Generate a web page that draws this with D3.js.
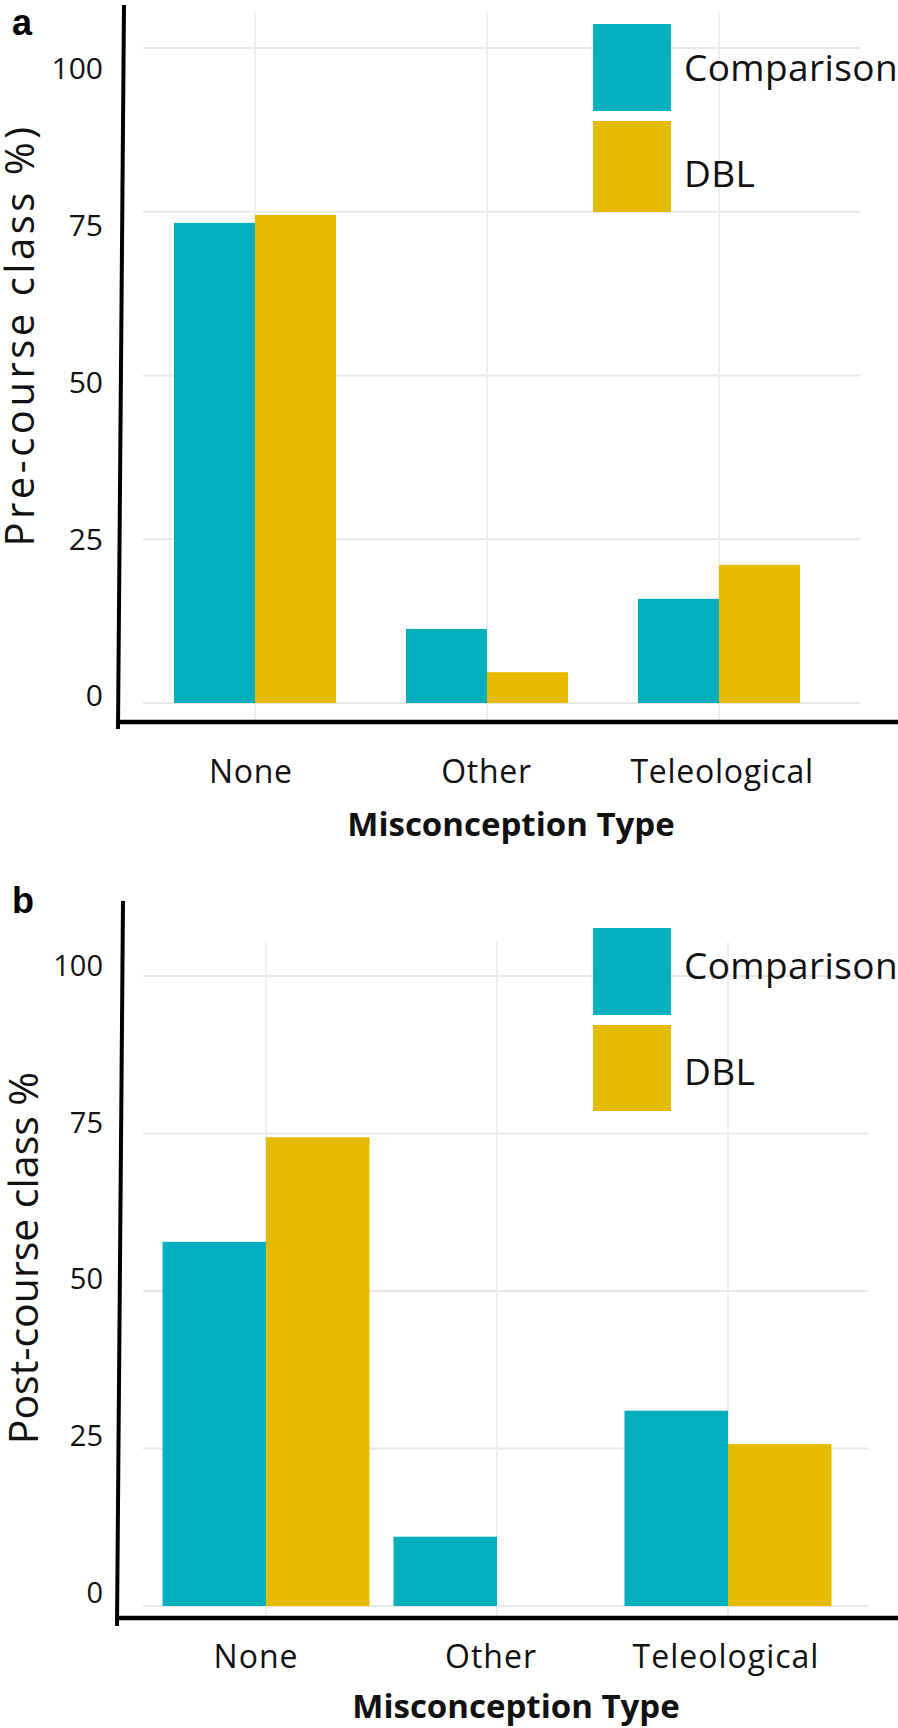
<!DOCTYPE html>
<html>
<head>
<meta charset="utf-8">
<script src="https://cdn.jsdelivr.net/npm/d3@7"></script>
<style>
  html, body { margin: 0; padding: 0; background: #fff; }
  svg { display: block; }
</style>
</head>
<body>
<svg id="chart" width="898" height="1728"></svg>
<script>
// ---------- data ----------
const categories = ["None", "Other", "Teleological"];
const seriesNames = ["Comparison", "DBL"];
const preComparison = [73.3, 11.3, 15.9];
const preDBL = [74.5, 4.7, 21.1];
const postComparison = [57.8, 11.0, 31.0];
const postDBL = [74.4, 0, 25.7];
const yTicks = [0, 25, 50, 75, 100];
const panelLetters = ["a", "b"];
const yTitles = ["Pre-course class %)", "Post-course class %"];
const xTitle = "Misconception Type";

// ---------- styles ----------
const colors = { Comparison: "#03AFBC", DBL: "#E6BA00" };
const FONT = "'Open Sans', 'DejaVu Sans', sans-serif";

const svg = d3.select("#chart");

function drawPanel(cfg) {
  const g = svg.append("g");
  const y = d3.scaleLinear().domain([0, 100]).range([cfg.y0, cfg.y100]);
  const yLab = d3.scaleLinear().domain([0, 100]).range([cfg.lab0, cfg.lab100]);
  const x = d3.scaleBand().domain(categories).range(cfg.xRange);
  const xLab = d3.scaleBand().domain(categories).range(cfg.xLabRange);
  const x1 = d3.scaleBand().domain(seriesNames).range([0, x.bandwidth()]).paddingOuter(cfg.barOuter);

  // gridlines
  g.append("g").selectAll("line").data(yTicks).join("line")
    .attr("x1", cfg.gridX[0]).attr("x2", cfg.gridX[1])
    .attr("y1", d => y(d)).attr("y2", d => y(d))
    .attr("stroke", "#EAE7E7").attr("stroke-width", 2.2);
  g.append("g").selectAll("line").data(categories).join("line")
    .attr("x1", d => x(d) + x.bandwidth() / 2).attr("x2", d => x(d) + x.bandwidth() / 2)
    .attr("y1", cfg.vGridTop).attr("y2", cfg.xAxisY)
    .attr("stroke", "#EFEDED").attr("stroke-width", 2);

  // bars
  const rows = categories.map((c, i) => ({ cat: c, vals: [
    { s: "Comparison", v: cfg.comp[i] }, { s: "DBL", v: cfg.dbl[i] }] }));
  g.append("g").selectAll("g").data(rows).join("g")
    .attr("transform", d => `translate(${x(d.cat)},0)`)
    .selectAll("rect").data(d => d.vals.filter(e => e.v > 0)).join("rect")
    .attr("x", d => x1(d.s)).attr("width", x1.bandwidth())
    .attr("y", d => y(d.v)).attr("height", d => y(0) - y(d.v))
    .attr("fill", d => colors[d.s]);

  // y tick labels via axis
  const ya = g.append("g").attr("transform", `translate(${cfg.yLabX},0)`)
    .call(d3.axisLeft(yLab).tickValues(yTicks).tickSize(0).tickPadding(0));
  ya.select(".domain").remove();
  ya.selectAll("text").attr("font-family", FONT).attr("font-size", cfg.tickFont)
    .attr("fill", "#111").attr("dy", "0.36em");

  // x tick labels via axis
  const xa = g.append("g").attr("transform", `translate(0,${cfg.xLabY})`)
    .call(d3.axisBottom(xLab).tickSize(0).tickPadding(0));
  xa.select(".domain").remove();
  xa.selectAll("text").attr("font-family", FONT).attr("font-size", 32)
    .attr("letter-spacing", cfg.xLabSpacing).attr("fill", "#111").attr("dy", 0);

  // axis lines (slightly tilted y axis as in original)
  g.append("line").attr("x1", cfg.yAxisTop[0]).attr("y1", cfg.yAxisTop[1])
    .attr("x2", cfg.yAxisBot[0]).attr("y2", cfg.yAxisBot[1])
    .attr("stroke", "#000").attr("stroke-width", 4);
  g.append("line").attr("x1", cfg.yAxisBot[0] - 2).attr("x2", 898)
    .attr("y1", cfg.xAxisY).attr("y2", cfg.xAxisY)
    .attr("stroke", "#000").attr("stroke-width", 4.5);

  // titles
  g.append("text").attr("x", cfg.xTitleX).attr("y", cfg.xTitleY)
    .attr("text-anchor", "middle").attr("font-family", FONT).attr("font-weight", 700)
    .attr("font-size", 33).attr("fill", "#111").text(xTitle);
  g.append("text").attr("transform", `translate(${cfg.yTitlePos[0]},${cfg.yTitlePos[1]}) rotate(-90)`)
    .attr("text-anchor", "middle").attr("font-family", FONT)
    .attr("font-size", cfg.yTitleFont).attr("letter-spacing", cfg.yTitleSpacing)
    .attr("fill", "#111").text(cfg.yTitle);
  g.append("text").attr("x", 12).attr("y", cfg.letterY)
    .attr("font-family", "'Liberation Sans', Arial, sans-serif").attr("font-weight", 700)
    .attr("font-size", 36).attr("fill", "#000").text(cfg.letter);

  // legend
  const lg = g.append("g");
  seriesNames.forEach((s, i) => {
    lg.append("rect").attr("x", cfg.legX).attr("y", cfg.legRects[i][0])
      .attr("width", 78).attr("height", cfg.legRects[i][1] - cfg.legRects[i][0])
      .attr("fill", colors[s]);
    lg.append("text").attr("x", cfg.legX + 91).attr("y", cfg.legTextY[i])
      .attr("font-family", FONT).attr("font-size", 37).attr("letter-spacing", 0.4)
      .attr("fill", "#111").text(s);
  });
}

drawPanel({
  comp: preComparison, dbl: preDBL,
  y0: 703, y100: 48, lab0: 695, lab100: 68, yLabX: 103, tickFont: 30,
  xRange: [139, 835], xLabRange: [133, 840], barOuter: 0.432,
  gridX: [143, 860], vGridTop: 13, xAxisY: 722,
  xLabY: 783, xLabSpacing: 0.7,
  yAxisTop: [124, 5], yAxisBot: [118, 729],
  xTitleX: 511, xTitleY: 836,
  yTitle: yTitles[0], yTitlePos: [34, 335], yTitleFont: 40, yTitleSpacing: 3.5,
  letter: panelLetters[0], letterY: 35,
  legX: 593, legRects: [[24, 111], [121, 212]], legTextY: [81, 187]
});

drawPanel({
  comp: postComparison, dbl: postDBL,
  y0: 1606, y100: 976, lab0: 1592, lab100: 965, yLabX: 103, tickFont: 29,
  xRange: [150.5, 843.5], xLabRange: [138.5, 843.5], barOuter: 0.116,
  gridX: [143, 868], vGridTop: 942, xAxisY: 1618,
  xLabY: 1668, xLabSpacing: 1,
  yAxisTop: [123, 901], yAxisBot: [117, 1626],
  xTitleX: 516, xTitleY: 1718,
  yTitle: yTitles[1], yTitlePos: [38, 1258], yTitleFont: 41, yTitleSpacing: 0,
  letter: panelLetters[1], letterY: 913,
  legX: 593, legRects: [[928, 1015], [1025, 1111]], legTextY: [979, 1085]
});
</script>
</body>
</html>
